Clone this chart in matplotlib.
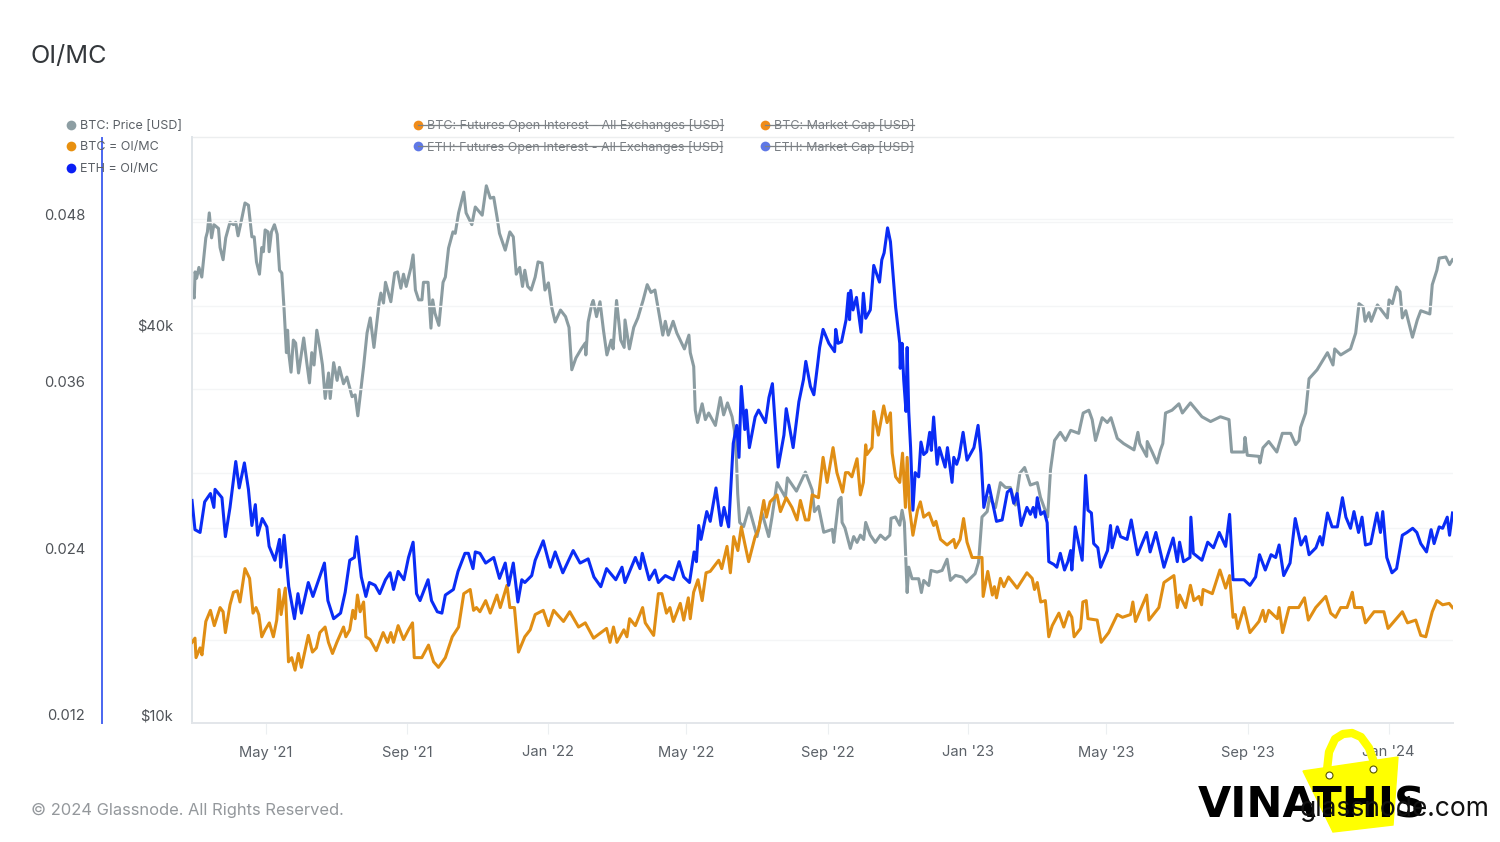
import numpy as np
import matplotlib
matplotlib.use("Agg")
import matplotlib.pyplot as plt
import matplotlib.dates as mdates
from matplotlib.lines import Line2D
from matplotlib.patches import Polygon
from matplotlib.transforms import ScaledTranslation

plt.rcParams['font.family'] = ['Inter', 'DejaVu Sans']

START = np.datetime64('2021-02-26')
SPAN_DAYS = 1095

# (days since start, OI/MC x 1000)
eth_oi_mc = [(0,28.0),(2.6,25.9),(7,25.7),(11,27.9),(16,28.5),(19,27.5),(20,28.8),(26,28.2),(29,25.4),(33,27.5),(38,30.8),(41,28.9),(45.5,30.7),(49,28.8),(52,26.2),(55,27.7),(57,25.5),(61,26.7),(65,26.1),(67,24.7),(72,23.7),(76,25.2),(77,23.2),(80,25.5),(84,21.8),(89,19.5),(92,21.3),(95,19.9),(101,22.1),(105,21.1),(110,22.3),(115,23.5),(118,20.8),(123,19.5),(129,19.9),(133,21.4),(137,23.7),(141,23.9),(143,25.4),(147,22.5),(151,21.1),(154,22.1),(159,21.9),(163,21.3),(168,22.3),(172,22.8),(175,21.6),(179,22.9),(184,22.3),(188,23.9),(192,25.0),(195,21.3),(198,20.8),(205,22.3),(208,20.8),(213,20.0),(217,19.9),(220,21.2),(227,21.6),(231,22.9),(237,24.2),(240,24.2),(244,23.1),(246,24.3),(250,24.2),(255,23.5),(262,23.9),(267,22.4),(272,23.5),(275,21.9),(279,23.5),(283,20.7),
(286.4,22.3),(289,22.1),(295,22.6),(298,23.7),(305,25.1),(311,23.2),(315.4,24.3),(322,22.8),(331,24.4),(337,23.5),(344,23.8),(349,22.5),(355,21.8),(360,23.1),(368,22.3),(373.4,23.2),(376,22.1),(385,23.9),(389,23.1),(391,24.2),(397,22.3),(402,23.0),(405,22.1),(411,22.6),(418,22.3),(423,23.6),(427,22.5),(432,22.1),(436,24.3),(438,23.6),(440,26.2),(442,25.2),(447,27.2),(450,26.5),(455,28.9),(459.4,26.2),(462,27.5),(466,26.1),(470,32.1),(473,33.4),(475,31.1),(477,36.2),(480,33.1),(481.4,34.5),(484,31.8),(489,34.0),(492,34.5),(498,33.6),(501,35.4),(504,36.4),(509,30.4),(514,32.7),(516,34.6),(522,31.8),(527,35.1),(531,36.7),
(533,38.0),(537,36.2),(540,35.6),(543,37.6),(545,39.0),(548,40.3),(553,39.3),(558,38.7),(559,40.3),(561,39.3),(564,39.4),(568,41.0),(570,42.9),(571,41.0),(572,43.1),(574,41.7),(577,42.6),(581,40.1),(583,42.9),(585,41.1),(589,41.7),(592,44.9),(597,43.7),(599,45.3),(601,45.8),(604,47.6),(606.5,46.6),(611,41.9),(614.6,39.3),(615,37.5),(616.6,39.3),(618,36.7),(620,34.4),(621,39.0),(622.4,34.4),(624,31.8),(626,27.3),(628,30.0),(631,29.7),(633,32.2),(635.4,31.3),(638,31.5),(640.6,32.9),(642,31.6),(644,34.0),(647,30.6),(649,31.8),(654,30.4),(656,31.8),(660,29.3),(661.5,31.1),(664,30.6),(666,31.1),(669.6,32.9),(673,30.9),(679,31.8),(682.6,33.4),(685,31.4),(687.6,27.5),(692,29.1),(698.6,26.5),(703.5,26.6),(708,28.6),(711,28.8),(713.6,27.8),(716.5,28.5),(720,26.2),(725,27.5),(728,27.0),(730.5,27.5),(732.5,26.8),(734,28.2),(737,27.0),(740,27.2),(742.6,26.4),(744,23.6),(748.4,23.4),(751,23.2),(754,24.2),(757.7,23.0),(760.6,23.6),(763,24.4),(764,23.0),(767,26.1),(773,23.7),(776,29.8),(778,27.3),(781,27.1),(783,24.9),(786.6,24.6),(789,23.2),(795,24.4),(797.6,26.2),(799,24.6),(803.5,26.1),(806.3,25.4),(812,25.2),(815.6,26.6),(821,24.1),
(825,24.9),(829,25.7),(832,24.3),(837,25.7),(844,23.2),(852,25.3),(855.6,23.6),(857.6,25.0),(861,23.6),(866.6,23.9),(867.4,26.8),(869.5,24.2),(877,23.7),(882,25.0),(887,24.6),(892,25.7),(897.6,24.7),(901,27.0),(904,22.3),(913.5,22.3),(918.7,21.9),(923.6,22.5),(927,24.1),(932,23.0),(937,24.1),(941,23.9),(944,24.8),(948,22.6),(953.5,23.5),(958,26.7),(963,24.8),(967,25.4),(970,24.1),(976,24.6),(979.5,25.4),(981.6,24.8),(986,27.1),(990,26.1),(994.6,26.1),(999,28.2),(1002,26.8),(1006,26.0),(1009,27.2),(1013,25.7),(1016,26.8),(1019,24.8),(1023.6,24.9),(1029,27.1),(1032,25.7),(1034,27.2),(1037.5,23.9),(1042,22.8),(1046,23.1),(1051,25.5),(1055,25.7),(1060,26.0),(1063.6,25.7),(1067,24.9),(1072,24.3),(1076,25.9),(1078.6,24.9),(1083,26.1),(1086,26.0),(1090,26.8),(1092,25.5),(1094.6,27.1)]

btc_oi_mc = [(0,17.8),(2.6,18.1),(3.5,16.7),(7,17.4),(8.7,16.9),(12,19.3),(16,20.1),(19.4,19.0),(24.4,20.3),(27,20.0),(29,18.5),(33,20.5),(36,21.4),(39.4,21.5),(41.7,20.7),(46,23.1),(50,22.4),(53,19.9),(55.6,20.3),(58,19.8),(60.6,18.2),(63.5,18.7),(67.2,19.2),(70.7,18.2),(73.6,19.4),(75.6,21.6),(77.4,19.8),(81,21.7),(83.8,16.4),(86.6,16.7),(89.5,15.8),(92.4,17.0),(95,16.0),(101,18.3),(104.6,17.1),(108,17.4),(111,18.5),(115.6,18.9),(118.5,17.8),(122,17.0),(125.8,17.8),(131.6,18.9),(133.6,18.2),(137,18.7),(139.7,20.1),(141.7,19.5),(143.7,21.2),(146,20.0),(149,20.7),(151,18.2),(154.7,18.0),(160,17.2),(166,18.5),(169.8,17.8),(172.7,18.5),(175,17.8),(179,19.0),(183.7,18.0),(188,18.7),(191.5,19.2),(193,16.7),(199.6,16.7),(205.4,17.6),(209.8,16.4),(214,16.0),(220,16.7),(226,18.2),(231.5,18.9),(236,21.3),(241.6,21.6),(244.5,20.1),(247,20.3),(250,20.0),(255,20.8),(259,19.9),(264.8,21.2),(267.7,20.3),(273.5,21.9),(276,20.3),(280,20.3),
(283.5,17.1),(289,18.2),(293.7,18.7),(298,19.8),(305,20.1),(309.6,19.0),(314,20.1),(322.6,19.3),(328,20.0),(335.7,18.9),(341.5,19.2),(348.7,18.1),(360,18.8),(363,17.8),(366,18.9),(369,17.8),(375,18.7),(377.7,18.2),(380,19.5),(385,19.0),(391.3,20.3),(393.6,19.2),(400.9,18.3),(405,21.3),(408,21.3),(412,19.9),(415,20.3),(418,19.3),(424,20.6),(427,19.4),(431,21.0),(432.7,19.5),(435.6,21.4),(439.4,22.3),(443,20.8),(446.4,22.8),(450,22.9),(457.4,23.7),(460,23.1),(464.6,24.7),(467.5,22.8),(470.4,25.4),(474,24.4),(477,26.1),(480,24.9),(483.4,23.6),(489,25.4),(492,25.9),(496.5,28.0),(498.8,26.8),(502,27.9),(508,28.4),(511,27.2),(516,28.2),(521,27.5),(525.4,26.6),(528.3,28.0),(532.7,26.6),(535.6,26.6),(538.5,28.4),(544,28.2),(548,31.1),(551.5,29.3),(556.7,31.8),(560,30.0),(565,28.6),(567.5,30.0),
(570,30.0),(573,29.7),(577.5,31.0),(580.4,28.4),(583,29.3),(585,32.0),(586,31.3),(590.5,31.8),(592,34.4),(596,32.7),(600.7,34.8),(603.6,33.6),(606.5,34.3),(608,31.4),(611,29.7),(614.6,29.3),(617,31.4),(619.5,27.5),(621,31.1),(623,27.5),(626,25.5),(630,27.3),(632.5,27.9),(635.4,26.8),(640,27.1),(644,26.2),(646,26.5),(650,25.2),(655.7,24.8),(661.5,25.2),(663,24.6),(667,25.2),(670,26.7),(673,25.0),(677.4,23.9),(686,23.9),(687,21.1),(691,22.9),(695,21.2),(696.8,21.8),(698.6,21.0),(702,22.4),(705,21.8),(709,22.5),(716.5,21.7),(725,22.8),(729.6,22.4),(731.6,21.6),(734,22.1),(737,20.7),(741,20.8),(744,18.2),(747,19.0),(752.8,19.9),(757,18.9),(761.4,20.0),(764,19.6),(766,18.2),(771.6,18.8),(773.6,20.7),(776.5,20.8),(778,19.5),(786,19.4),(789.5,17.8),(796,18.5),(803.5,19.8),(808,19.6),(815,19.8),(817,20.7),(819.3,19.3),
(829,21.2),(831,19.4),(839.6,20.3),(844,22.1),(852.7,22.6),(855.6,20.3),(857.6,21.2),(862.8,20.3),(867,21.9),(870,20.8),(874.4,21.1),(876.7,20.5),(878,21.6),(886,21.3),(892.6,23.0),(897.6,21.7),(901,22.6),(904,19.6),(906,19.8),(908,18.8),(913.5,20.3),(918.7,18.5),(926.5,19.3),(930,20.1),(932,19.3),(935,20.1),(942.5,19.5),(944,20.3),(947,18.5),(952.6,20.3),(961,20.3),(966,21.0),(969.4,19.4),(975.8,20.3),(984.5,21.1),(988.8,19.9),(993,19.6),(997.5,20.3),(1003,20.3),(1006,21.0),(1007.6,21.4),(1009.7,20.3),(1016,20.3),(1019,19.2),(1026.5,20.0),(1035,20.0),(1038.6,18.8),(1046.8,19.6),(1051,20.0),(1055.5,19.2),(1062.7,19.4),(1067,18.3),(1071.4,18.2),(1077,20.0),(1081,20.8),(1086,20.5),(1091.7,20.6),(1094.6,20.3)]

# (days since start, BTC price in $k)
btc_price = [(0,46.1),(2,45.3),(2.7,49.7),(4,48.6),(6,50.5),(8.5,48.8),(12,56.1),(13.4,57.3),(15,61.3),(17,56.1),(19,58.8),(23,58.0),(24.4,54.2),(27,51.9),(29.3,56.1),(33,59.3),(36,58.8),(38,59.3),(40,56.5),(43,59.8),(46,63.5),(49,63.0),(52,56.3),(54,56.3),(56,51.5),(58.6,49.3),(60.6,54.2),(62,53.4),(63.5,57.7),(66,57.3),(67,53.4),(69,57.3),(71.6,58.8),(74,56.8),(76,50.0),(78,49.5),(80,43.4),(82,37.3),(83,40.4),(84,37.3),(86,34.8),(88,39.0),(90,38.6),(92.5,34.7),(97,39.3),(99.7,36.0),(102,33.5),(104,37.3),(106,35.7),(108.4,40.4),(111,38.0),(113.3,35.7),(115.7,31.7),(118.6,34.7),(120,31.7),(123,36.0),(126,33.8),(128,35.4),(131.6,33.4),(134.5,34.2),(139,31.9),(141.7,32.1),(144,29.8),(149,35.5),(152,40.0),(154.8,42.2),(158,38.0),(162.6,44.7),(164,46.1),(166.3,44.5),(168,47.9),(172.7,44.7),(176,49.5),(178.5,49.7),(181.4,46.9),(183.7,49.3),(186,47.2),(190,50.4),(192,52.8),(194,46.6),(196.8,45.0),(199.7,45.0),(201,47.9),(205,47.9),(207.5,40.7),(209,45.0),(211,42.9),(214.4,41.1),(218,47.9),(220,48.8),(222.8,54.1),(226.6,57.3),(228.6,57.0),(231.5,61.3),(236,66.0),(238,61.3),(243,58.8),(246,62.6),(252,60.8),(255.6,67.5),(259,64.6),(262,64.8),(265,60.2),(267,57.0),
(272,53.7),(276,57.3),(279,56.3),(281.6,49.3),(284.6,50.5),(287,47.2),(289,50.0),(291.5,47.2),(294.5,46.6),(298,48.8),(300.5,51.5),(304,51.3),(306.5,46.6),(309.5,47.8),(312.5,43.7),(315.4,41.6),(320,43.4),(324.4,42.4),(327.4,40.8),(329.8,35.1),(333.4,36.6),(338,37.8),(341.5,38.6),(342,37.0),(344,41.6),(347,44.2),(348.4,44.9),(351.3,42.4),(354.3,44.7),(357.3,40.4),(360.3,37.0),(364,39.0),(365.7,37.8),(368.7,44.9),(372.3,39.0),(375.3,38.0),(376,41.9),(379.8,37.8),(383.6,40.8),(387.2,42.2),(391.7,44.9),(395.3,47.5),(398.6,46.2),(402,46.6),(405,43.4),(408.8,39.7),(411,41.7),(413.6,39.7),(417.8,41.7),(421,40.0),(427.6,37.8),(431.5,39.7),(432.7,37.3),(435.7,35.5),
(437,30.4),(439,29.1),(443,31.1),(445.8,29.4),(448.7,30.1),(454.5,28.8),(458.8,31.8),(461.7,29.9),(465,31.2),(469,29.7),(471,28.3),(472.7,25.8),(473.9,22.6),(475.6,20.4),(479,20.1),(483.7,21.5),(490.7,19.4),(495,21.1),(500.8,19.4),(503.7,20.8),(508,23.5),(515.3,22.3),(517,23.9),(524.9,22.8),(532.7,24.4),(538.5,22.9),(540.5,21.2),(544,21.6),(548.6,19.7),(556,19.9),(557.3,19.0),(561.6,22.1),(563.7,22.3),
(564.5,20.4),(567,20.0),(571.7,18.6),(574.6,19.4),(577.5,19.0),(580.4,19.5),(583.3,19.2),(585,20.4),(589,19.5),(593.4,19.0),(597.8,19.5),(602,19.2),(606,19.5),(607,20.7),(610.8,20.8),(614.6,20.2),(616.6,21.3),(618.6,20.4),(620,17.7),(621,15.9),(622.4,17.4),(625.3,16.7),(631,16.7),(633.4,15.9),(635.4,16.6),(639.8,16.3),(641.8,17.2),(647,17.1),(651.4,17.2),(655.7,17.9),(658.6,16.6),(663,16.9),(668.7,16.8),(672.5,16.5),(680,17.0),(683,17.7),(686,20.8),(690.5,21.2),(692.5,22.3),(697.7,21.5),(702,23.5),(706.4,23.1),(710.7,23.1),(715,21.7),(718.9,24.3),(723,24.8),(728,23.3),(734,23.5),(736.8,22.3),(743,20.8),(745.5,24.6),(749,27.3),(754,28.1),(758.5,27.3),(763,28.3),(770,28.0),(773.9,30.1),(778.8,30.4),(781.7,29.4),(784.6,27.3),(790.4,29.6),(794.8,29.1),(798,29.6),(803.5,27.5),(809,27.0),(818,26.4),(821.4,28.1),
(823,27.0),(829,25.8),(829.5,27.2),(833.8,26.2),(838,25.2),(841,26.4),(843,27.0),(845.4,30.1),(851,30.4),(857,31.1),(860,30.1),(867,31.2),(877,29.7),(884.5,29.2),(893,29.7),(900.5,29.4),(902.8,26.2),(913.5,26.2),(914.4,27.6),(916.4,25.9),(926.5,25.8),(927.4,25.2),(930,26.6),(935,27.2),(942,26.2),(946.8,28.0),(954,28.0),(958.4,26.9),(961.3,27.3),(962.7,28.6),(967,30.1),(970,34.0),(977,35.1),(986,37.3),(990.8,35.7),(992.3,37.8),(997.5,37.0),(1006,37.8),(1010.5,40.0),(1013.4,44.4),(1017,43.9),(1018.7,41.7),(1022,43.0),(1024,41.7),(1029.4,44.2),(1038,42.2),(1039.5,45.0),(1042.4,44.4),(1046,47.1),(1049,46.3),(1051,42.2),(1054,43.3),(1059.8,39.4),(1064,41.9),(1067,43.3),(1074.9,42.8),(1077,47.5),(1081,50.0),(1083,52.2),(1088.8,52.4),(1092,51.0),(1094.6,51.9)]

oi_ticks = [0.012, 0.018, 0.024, 0.030, 0.036, 0.042, 0.048]
oi_labels = ['0.012', '', '0.024', '', '0.036', '', '0.048']
price_ticks = [10000, 20000, 40000, 60000]
price_labels = ['$10k', '', '$40k', '']
month_ticks = ['2021-05-01','2021-09-01','2022-01-01','2022-05-01','2022-09-01','2023-01-01','2023-05-01','2023-09-01','2024-01-01']
month_labels = ["May '21","Sep '21","Jan '22","May '22","Sep '22","Jan '23","May '23","Sep '23","Jan '24"]
legend_shown = [('BTC: Price [USD]','#8d9ea3'),('BTC = OI/MC','#e8900f'),('ETH = OI/MC','#0a1ef5')]
legend_hidden = [('BTC: Futures Open Interest - All Exchanges [USD]','#f08c1a'),('ETH: Futures Open Interest - All Exchanges [USD]','#5f78e6'),
                 ('BTC: Market Cap [USD]','#f08c1a'),('ETH: Market Cap [USD]','#5f78e6')]

W, H = 1500, 842
fx = lambda x: x / W
fy = lambda y: 1 - y / H
fig = plt.figure(figsize=(15, 8.42), dpi=100, facecolor='white')
ax = fig.add_axes([fx(192), fy(723), fx(1453) - fx(192), (723 - 137) / H])
ax2 = ax.twinx()

def split(points, scale):
    days = np.array([p[0] for p in points])
    vals = np.array([p[1] for p in points]) * scale
    dates = START + (days * 24).astype(int).astype('timedelta64[h]')
    return dates, vals

GRID = '#f4f5f6'
LW = 2.2
d, v = split(btc_price, 1000)
ax2.plot(d, v, color='#8b9ca1', lw=LW, solid_joinstyle='round', zorder=3)
d, v = split(btc_oi_mc, 1e-3)
ax.plot(d, v, color='#e08e14', lw=LW, solid_joinstyle='round', zorder=4)
d, v = split(eth_oi_mc, 1e-3)
ax.plot(d, v, color='#0a2cf5', lw=LW, solid_joinstyle='round', zorder=5)

# grey price beneath the OI/MC lines
ax.set_zorder(2); ax2.set_zorder(1); ax.patch.set_visible(False); ax2.patch.set_visible(True)

x0 = mdates.date2num(START)
ax.set_xlim(x0, x0 + SPAN_DAYS)
ax.set_ylim(0.012, 0.012 + 586 * 7.19e-5)
ax2.set_yscale('log')
ax2.set_ylim(10000, 10000 * 2 ** (586 / 195))

ax.set_xticks(mdates.date2num(np.array(month_ticks, dtype='datetime64[D]')))
ax.set_xticklabels(month_labels, fontsize=10.6, color='#5b6168')
ax.tick_params(axis='x', length=8, width=0.8, color='#eceff1', pad=8.2)

ax.set_yticks(oi_ticks); ax.set_yticklabels(oi_labels, fontsize=10.6, color='#4f5358')
ax.tick_params(axis='y', length=0, pad=77)
ax.grid(axis='y', color=GRID, lw=1)
ax.set_axisbelow(True)

ax2.yaxis.tick_left()
ax2.minorticks_off()
ax2.set_yticks(price_ticks); ax2.set_yticklabels(price_labels, fontsize=10.6, color='#4f5358')
ax2.tick_params(axis='y', which='both', length=0, pad=13.7, left=False, right=False, labelleft=True, labelright=False)
ax2.grid(axis='y', color=GRID, lw=1)
ax2.set_axisbelow(True)

shift = ScaledTranslation(0, 8 / 100, fig.dpi_scale_trans)
for a in (ax, ax2):
    for t in a.get_yticklabels():
        t.set_transform(t.get_transform() + shift)
    for side in ('top', 'right'):
        a.spines[side].set_visible(False)
    a.spines['left'].set_color('#dfe4e8'); a.spines['left'].set_linewidth(1.4)
    a.spines['bottom'].set_color('#e3e6ea'); a.spines['bottom'].set_linewidth(1.4)

# secondary left axis line
fig.add_artist(Line2D([fx(102), fx(102)], [fy(723), fy(138)], color='#4a66f0', lw=1.4))
fig.add_artist(Line2D([fx(192), fx(1453)], [fy(137), fy(137)], color='#eceeef', lw=1))

fig.text(fx(31), fy(56), 'OI/MC', fontsize=18.2, color='#33373b', va='center')
fig.text(fx(31), fy(810.5), '\u00a9 2024 Glassnode. All Rights Reserved.', fontsize=11.9, color='#94989c', va='center')

for (label, col), y in zip(legend_shown, [125, 146, 168]):
    fig.add_artist(Line2D([fx(71)], [fy(y)], marker='o', ms=7, color=col, mec='none', ls='none'))
    fig.text(fx(80), fy(y + 1), label, fontsize=9, color='#5b6066', va='center', zorder=6)

hidden_pos = [(418, 125, 723), (418, 146, 722), (765, 125, 914), (765, 146, 913)]
for (label, col), (xd, y, xe) in zip(legend_hidden, hidden_pos):
    fig.add_artist(Line2D([fx(xd)], [fy(y)], marker='o', ms=7, color=col, mec='none', ls='none'))
    fig.text(fx(xd + 9), fy(y + 1), label, fontsize=9, color='#7a7f84', va='center')
    fig.add_artist(Line2D([fx(xd), fx(xe)], [fy(y), fy(y)], color='#7d8286', lw=0.9))

# watermark
bag = Polygon([(fx(1303), fy(771)), (fx(1398), fy(757)), (fx(1393), fy(825)), (fx(1333), fy(832))],
              closed=True, transform=fig.transFigure, fc='#ffff00', ec='#ffff00', zorder=8)
fig.add_artist(bag)
handle_x = [1327, 1329, 1335, 1343, 1352, 1361, 1369, 1375]
handle_y = [770, 752, 739, 734, 733, 737, 748, 765]
fig.add_artist(Line2D([fx(a) for a in handle_x], [fy(b) for b in handle_y], color='#ffff00', lw=6, zorder=8))
for (hx, hy) in [(1329, 775), (1373, 769)]:
    fig.add_artist(Line2D([fx(hx)], [fy(hy)], marker='o', ms=5, mfc='white', mec='#555500', mew=0.8, ls='none', zorder=9))
fig.text(fx(1198), fy(805), 'VINATHIS', fontsize=31, fontweight='bold', color='black', va='center',
         family=['DejaVu Sans'], zorder=10)
fig.text(fx(1300), fy(809), 'glassnode.com', fontsize=19, color='#111111', va='center', zorder=10)

fig.savefig('out.png', dpi=100, facecolor='white')
